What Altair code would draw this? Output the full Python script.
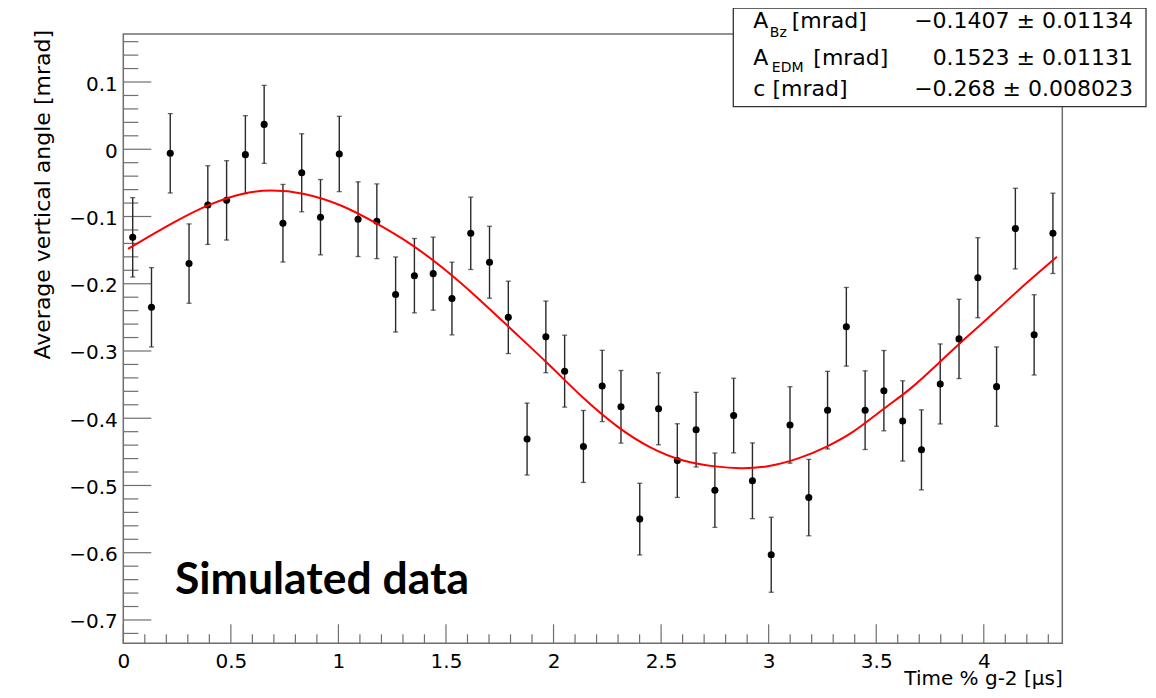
import altair as alt
import pandas as pd

# ---------------- data ----------------
t_centers = [0.0437, 0.1310, 0.2183, 0.3056, 0.3929, 0.4802, 0.5675, 0.6548, 0.7421, 0.8294,
             0.9167, 1.0040, 1.0913, 1.1786, 1.2659, 1.3532, 1.4405, 1.5278, 1.6151, 1.7024,
             1.7897, 1.8770, 1.9643, 2.0516, 2.1389, 2.2262, 2.3135, 2.4008, 2.4881, 2.5754,
             2.6627, 2.7500, 2.8373, 2.9246, 3.0119, 3.0992, 3.1865, 3.2738, 3.3611, 3.4484,
             3.5357, 3.6230, 3.7103, 3.7976, 3.8849, 3.9722, 4.0595, 4.1468, 4.2341, 4.3214]
y_vals = [-0.131, -0.235, -0.006, -0.170, -0.083, -0.076, -0.008, 0.037, -0.110, -0.035,
          -0.101, -0.007, -0.104, -0.107, -0.216, -0.188, -0.185, -0.222, -0.125, -0.168,
          -0.250, -0.431, -0.279, -0.330, -0.442, -0.352, -0.383, -0.550, -0.386, -0.463,
          -0.417, -0.507, -0.396, -0.493, -0.603, -0.410, -0.518, -0.388, -0.264, -0.388,
          -0.359, -0.404, -0.447, -0.349, -0.282, -0.191, -0.353, -0.118, -0.276, -0.125]
y_errs = [0.059, 0.059, 0.059, 0.059, 0.0585, 0.059, 0.058, 0.058, 0.0577, 0.058,
          0.056, 0.056, 0.0555, 0.0555, 0.0558, 0.0553, 0.0543, 0.054, 0.0538, 0.0535,
          0.0538, 0.0535, 0.0533, 0.0535, 0.0535, 0.053, 0.054, 0.0533, 0.0535, 0.0548,
          0.0555, 0.0553, 0.0555, 0.0563, 0.0558, 0.0568, 0.0568, 0.0577, 0.0585, 0.0585,
          0.0597, 0.0597, 0.0595, 0.0595, 0.059, 0.0595, 0.059, 0.060, 0.0597, 0.0597]

# red fit curve
fit_t = [0.022, 0.247, 0.402, 0.557, 0.681, 0.836, 1.022, 1.177, 1.332, 1.487,
         1.642, 1.797, 1.983, 2.138, 2.293, 2.448, 2.603, 2.759, 2.867, 2.991,
         3.146, 3.270, 3.394, 3.533, 3.658, 3.797, 3.921, 4.045, 4.169, 4.340]
fit_y = [-0.148, -0.106, -0.081, -0.0645, -0.060, -0.064, -0.083, -0.110, -0.139, -0.176,
         -0.219, -0.266, -0.321, -0.371, -0.413, -0.445, -0.465, -0.4724, -0.475, -0.4733,
         -0.460, -0.4427, -0.4218, -0.3856, -0.358, -0.316, -0.279, -0.244, -0.207, -0.160]

x_major = [0, 0.5, 1, 1.5, 2, 2.5, 3, 3.5, 4]
x_minor = [0.1, 0.2, 0.3, 0.4, 0.6, 0.7, 0.8, 0.9, 1.1, 1.2, 1.3, 1.4, 1.6, 1.7, 1.8, 1.9,
           2.1, 2.2, 2.3, 2.4, 2.6, 2.7, 2.8, 2.9, 3.1, 3.2, 3.3, 3.4, 3.6, 3.7, 3.8, 3.9,
           4.1, 4.2, 4.3]
y_major = [-0.7, -0.6, -0.5, -0.4, -0.3, -0.2, -0.1, 0, 0.1]
y_minor = [-0.72, -0.68, -0.66, -0.64, -0.62, -0.58, -0.56, -0.54, -0.52,
           -0.48, -0.46, -0.44, -0.42, -0.38, -0.36, -0.34, -0.32,
           -0.28, -0.26, -0.24, -0.22, -0.18, -0.16, -0.14, -0.12,
           -0.08, -0.06, -0.04, -0.02, 0.02, 0.04, 0.06, 0.08, 0.12, 0.14, 0.16]

stats_names = ["A", "A", "c [mrad]"]
stats_subs = ["Bz", "EDM", ""]
stats_values = ["\u22120.1407 \u00b1 0.01134", "0.1523 \u00b1 0.01131", "\u22120.268 \u00b1 0.008023"]

x_title = "Time % g-2 [\u00b5s]"
y_title = "Average vertical angle [mrad]"
label_text = "Simulated data"

# ---------------- layout ----------------
W, H = 939, 609.3
X_DOMAIN = [0, 4.365]
Y_DOMAIN = [-0.7347, 0.1714]
FRAME = "#6f6f6f"
FONT = "DejaVu Sans"

xs = alt.Scale(domain=X_DOMAIN, nice=False, zero=False)
ys = alt.Scale(domain=Y_DOMAIN, nice=False, zero=False)
xaxis = alt.Axis(values=x_major, format=".1~f", ticks=False, domain=False, grid=False,
                 labelFont=FONT, labelFontSize=20, labelColor="black", labelPadding=8,
                 labelFlush=False, labelOverlap=False)
yaxis = alt.Axis(values=y_major, format=".1~f", ticks=False, domain=False, grid=False,
                 labelFont=FONT, labelFontSize=20, labelColor="black", labelPadding=6,
                 labelOffset=2, labelOverlap=False)


def X(field):
    return alt.X(field, type="quantitative", scale=xs, axis=xaxis, title=None)


def Y(field):
    return alt.Y(field, type="quantitative", scale=ys, axis=yaxis, title=None)


pts = pd.DataFrame({"t": t_centers, "y": y_vals, "e": y_errs})
pts["lo"] = pts["y"] - pts["e"]
pts["hi"] = pts["y"] + pts["e"]
caps = pd.DataFrame({"t": t_centers * 2, "c": list(pts["lo"]) + list(pts["hi"])})
fit = pd.DataFrame({"t": fit_t, "y": fit_y})
one = pd.DataFrame({"a": [0]})

frame = alt.Chart(one).mark_rect(fill=None, stroke=FRAME, strokeWidth=1.5).encode(
    x=alt.value(0), x2=alt.value(W), y=alt.value(0), y2=alt.value(H))

yminor = alt.Chart(pd.DataFrame({"v": y_minor})).mark_rule(color=FRAME, strokeWidth=1.2).encode(
    y=Y("v"), x=alt.value(0), x2=alt.value(15))
ymajor = alt.Chart(pd.DataFrame({"v": y_major})).mark_rule(color=FRAME, strokeWidth=1.2).encode(
    y=Y("v"), x=alt.value(0), x2=alt.value(28))
xminor = alt.Chart(pd.DataFrame({"v": x_minor})).mark_rule(color=FRAME, strokeWidth=1.2).encode(
    x=X("v"), y=alt.value(H), y2=alt.value(H - 9))
xmajor = alt.Chart(pd.DataFrame({"v": x_major})).mark_rule(color=FRAME, strokeWidth=1.2).encode(
    x=X("v"), y=alt.value(H), y2=alt.value(H - 19))

bars = alt.Chart(pts).mark_rule(color="#2a2a2a", strokeWidth=1.4).encode(
    x=X("t"), y=Y("lo"), y2="hi")
capm = alt.Chart(caps).mark_tick(color="#2a2a2a", orient="horizontal", size=5, thickness=1.3).encode(
    x=X("t"), y=Y("c"))
dots = alt.Chart(pts).mark_point(filled=True, shape="circle", size=50, color="black", opacity=1).encode(
    x=X("t"), y=Y("y"))
curve = alt.Chart(fit).mark_line(color="#ff0000", strokeWidth=2, interpolate="basis").encode(
    x=X("t"), y=Y("y"))

# statistics box
box = alt.Chart(one).mark_rect(fill="white", stroke="#333333", strokeWidth=1.3).encode(
    x=alt.value(610), x2=alt.value(1022.7), y=alt.value(-26), y2=alt.value(72.7))
row_y = [-5.7, 31, 62]
sub_x = [646.5, 648.5]
sub_y = [3.3, 37.7]
unit_x = [668.4, 690]
texts = []
for i in range(3):
    texts.append(alt.Chart(one).mark_text(text=stats_names[i], font=FONT, fontSize=22, align="left",
                                          baseline="alphabetic", color="black").encode(
        x=alt.value(630), y=alt.value(row_y[i])))
    texts.append(alt.Chart(one).mark_text(text=stats_values[i], font=FONT, fontSize=22, align="right",
                                          baseline="alphabetic", color="black").encode(
        x=alt.value(1009.7), y=alt.value(row_y[i])))
for i in range(2):
    texts.append(alt.Chart(one).mark_text(text=stats_subs[i], font=FONT, fontSize=14, align="left",
                                          baseline="alphabetic", color="black").encode(
        x=alt.value(sub_x[i]), y=alt.value(sub_y[i])))
    texts.append(alt.Chart(one).mark_text(text="[mrad]", font=FONT, fontSize=22, align="left",
                                          baseline="alphabetic", color="black").encode(
        x=alt.value(unit_x[i]), y=alt.value(row_y[i])))

sim = alt.Chart(one).mark_text(text=label_text, font="Lato", fontWeight="bold", fontSize=44.5,
                               align="left", baseline="alphabetic", color="black").encode(
    x=alt.value(51.7), y=alt.value(560))
xt = alt.Chart(one).mark_text(text=x_title, font=FONT, fontSize=20, align="right",
                              baseline="alphabetic", color="black").encode(
    x=alt.value(939.4), y=alt.value(651))
yt = alt.Chart(one).mark_text(text=y_title, font=FONT, fontSize=22, align="right", angle=270,
                              baseline="alphabetic", color="black").encode(
    x=alt.value(-73.3), y=alt.value(-4))

chart = alt.layer(
    yminor, ymajor, xminor, xmajor, frame, bars, capm, dots, curve, box, *texts, sim, xt, yt
).properties(
    width=W, height=H,
    autosize=alt.AutoSizeParams(type="none"),
    padding={"left": 115.3, "top": 26, "right": 85.7, "bottom": 46.7},
    background="white",
).configure_view(stroke=None)

chart.save("out.html", embed_options={"renderer": "svg", "actions": False})
